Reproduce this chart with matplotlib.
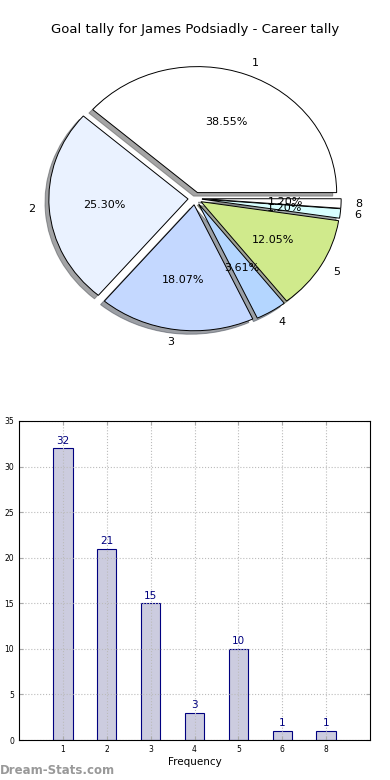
import numpy as np
import matplotlib
matplotlib.use('Agg')
import matplotlib.pyplot as plt

# goals per match and how often
goal_labels = ['1', '2', '3', '4', '5', '6', '8']
goal_counts = [32, 21, 15, 3, 10, 1, 1]
pie_colors = ['#ffffff', '#eaf2ff', '#c4d8ff', '#b4d6ff', '#d0ea8c', '#d8ffff', '#ffffff']

fig = plt.figure(figsize=(3.9, 7.8), dpi=100)

# pie
ax1 = fig.add_axes([21/390, 1 - 356/780, 348/390, 315/780])
explode = [0.05] * len(goal_counts)
wedges, texts, autotexts = ax1.pie(goal_counts, labels=goal_labels, colors=pie_colors,
                                   explode=explode, autopct='%1.2f%%', shadow=True,
                                   startangle=0, counterclock=True,
                                   wedgeprops={'edgecolor': 'black', 'linewidth': 0.7},
                                   textprops={'fontsize': 8})
ax1.set_aspect('auto')
ax1.set_xlim(-1.25, 1.25)
ax1.set_ylim(-1.25, 1.25)
fig.text(0.5, 1 - 30/780, 'Goal tally for James Podsiadly - Career tally',
         ha='center', va='center', fontsize=9.5)

# bars
ax2 = fig.add_axes([19/390, 1 - 740/780, 351/390, 319/780])
x = np.arange(len(goal_counts))
bars = ax2.bar(x, goal_counts, width=0.44, color='#ccccdf', edgecolor='navy', linewidth=0.8)
for xi, v in zip(x, goal_counts):
    ax2.text(xi, v + 0.3, str(v), ha='center', va='bottom', color='navy', fontsize=7.5)
ax2.set_xticks(x)
ax2.set_xticklabels(goal_labels)
ax2.set_xlim(-1, 7)
ax2.set_ylim(0, 35)
ax2.set_yticks(range(0, 36, 5))
ax2.tick_params(labelsize=5.5, direction='in', top=True, right=True, length=3, color='#aaaaaa')
ax2.grid(True, linestyle=':', color='#bbbbbb', linewidth=0.8)
ax2.set_axisbelow(False)
for sp in ax2.spines.values():
    sp.set_zorder(4)
ax2.set_xlabel('Frequency', fontsize=7.5, labelpad=2)
ax2.set_ylabel('Goals in Match', fontsize=7.5, labelpad=2)

fig.text(0.0, 1 - 770/780, 'Dream-Stats.com', ha='left', va='center',
         fontsize=8.5, color='#999999', fontweight='bold')

fig.savefig('out.png', dpi=100)
